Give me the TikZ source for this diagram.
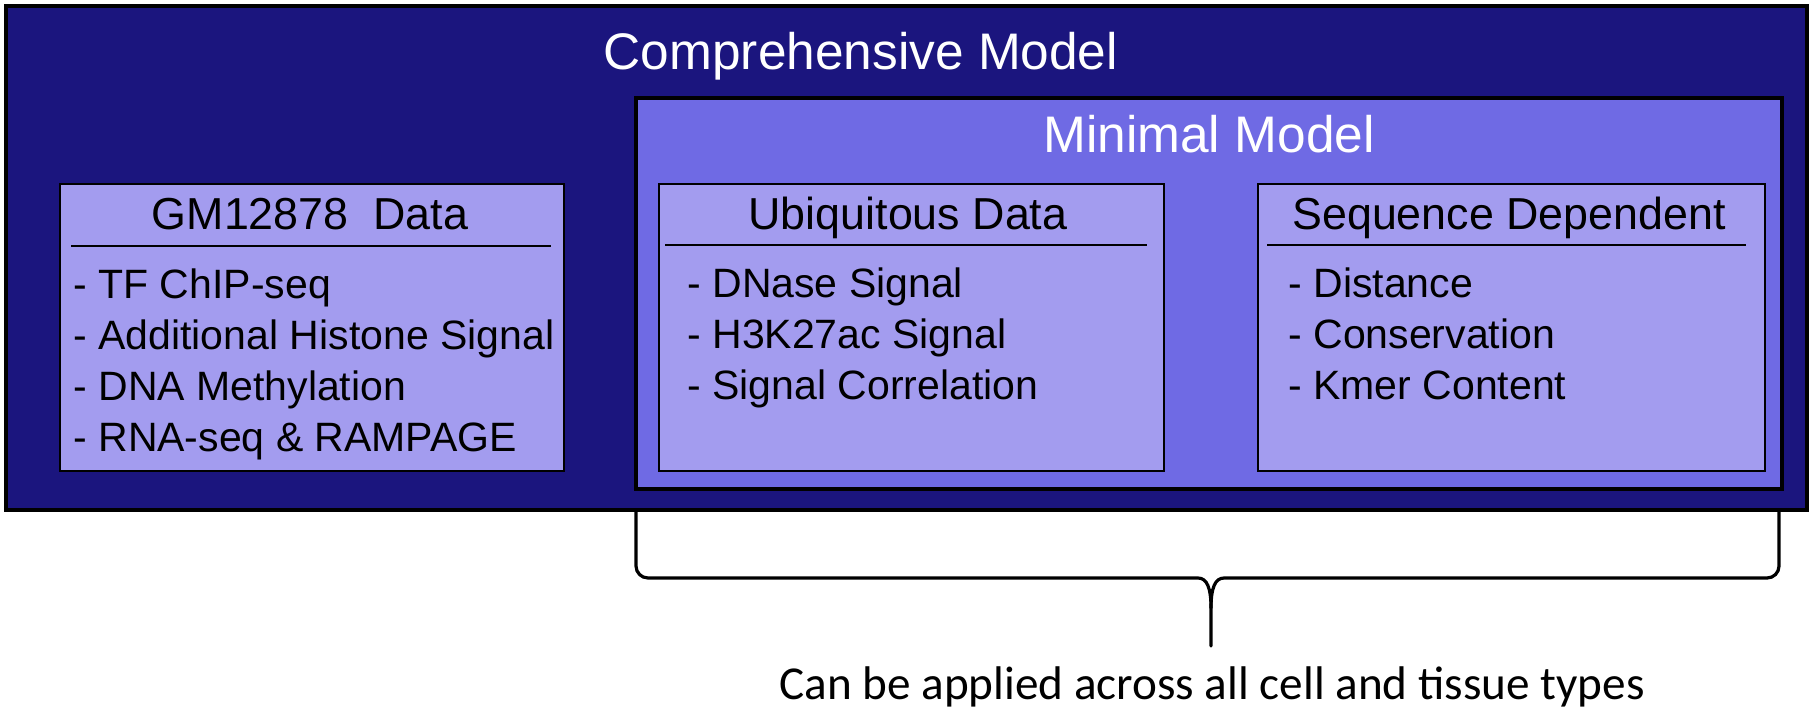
\documentclass[tikz,border=0pt]{standalone}
\usepackage{fontspec}
\setmainfont{Liberation Sans}
\newfontfamily\notefont{Carlito}
\usetikzlibrary{positioning}

\definecolor{compblue}{RGB}{27,21,126}
\definecolor{miniblue}{RGB}{111,106,228}
\definecolor{datalilac}{RGB}{163,156,239}

\tikzset{
  panel/.style={rectangle, draw=black, anchor=north west, inner sep=0pt, outer sep=0pt},
  databox/.style={panel, fill=datalilac, line width=1pt, minimum height=143.5pt},
  title/.style={white, anchor=base, font=\fontsize{25.7}{30}\selectfont},
  head/.style={anchor=base, font=\fontsize{22.4}{26}\selectfont},
  item/.style={anchor=base west, inner sep=0pt, font=\fontsize{20.5}{24}\selectfont},
  rule/.style={line width=1pt},
  brace/.style={line width=1.6pt, line cap=round, line join=round},
}

\begin{document}
\begin{tikzpicture}[x=0.5pt,y=-0.5pt]
\useasboundingbox (0,0) rectangle (1813,709);
% outer and inner models
\node[panel, fill=compblue, line width=1.6pt, minimum width=900.5pt, minimum height=252pt] (comp) at (6,6) {};
\node[panel, fill=miniblue, line width=1.6pt, minimum width=573pt, minimum height=195.5pt] (mini) at (636,98) {};
\node[title] (comptitle) at (861,69) {Comprehensive Model};
\node[title] (minititle) at (1209,152) {Minimal Model};
% data boxes
\node[databox, minimum width=252pt] (gm) at (60,184) {};
\node[databox, minimum width=252.5pt] (ubiq) at (659,184) {};
\node[databox, minimum width=253.5pt] (seq) at (1258,184) {};
\node[head] (gmhead) at (310,229) {GM12878\ \ Data};
\node[head] (ubiqhead) at (908,229) {Ubiquitous Data};
\node[head] (seqhead) at (1509,229) {Sequence Dependent};
\draw[rule] (71,246) -- (551,246);
\draw[rule] (665,245) -- (1147,245);
\draw[rule] (1267,245) -- (1746,245);
% cell type specific
\node[item] (gm1) at (73,298) {- TF ChIP-seq};
\node[item] (gm2) at (73,349) {- Additional Histone Signal};
\node[item] (gm3) at (73,400) {- DNA Methylation};
\node[item] (gm4) at (73,451) {- RNA-seq \& RAMPAGE};
% ubiquitous
\node[item] (ubiq1) at (687,297) {- DNase Signal};
\node[item] (ubiq2) at (687,348) {- H3K27ac Signal};
\node[item] (ubiq3) at (687,399) {- Signal Correlation};
% sequence
\node[item] (seq1) at (1288,297) {- Distance};
\node[item] (seq2) at (1288,348) {- Conservation};
\node[item] (seq3) at (1288,399) {- Kmer Content};
% brace under the minimal model
\coordinate (braceL) at (636,510);
\coordinate (braceR) at (1779,510);
\coordinate (tip) at (1211,646);
\draw[brace] (braceL) -- (636,566) to[out=-90,in=180] (648,578) -- (1198,578)
  .. controls (1207,578) and (1211,588) .. (1211,608) -- (tip);
\draw[brace] (braceR) -- (1779,566) to[out=-90,in=0] (1767,578) -- (1224,578)
  .. controls (1215,578) and (1211,588) .. (1211,608);
\node[anchor=base, font=\notefont\fontsize{23.6}{28}\selectfont] (note) at (1212,699) {Can be applied across all cell and tissue types};
\end{tikzpicture}
\end{document}
